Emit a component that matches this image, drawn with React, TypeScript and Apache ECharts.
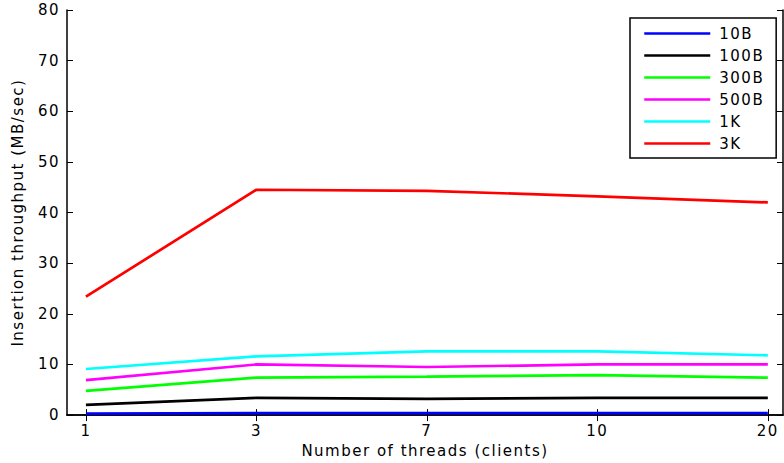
import React, { useEffect, useRef } from "react";
import * as echarts from "echarts";

const threads = ["1", "3", "7", "10", "20"];
const seriesNames = ["10B", "100B", "300B", "500B", "1K", "3K"];
const colors = ["#0000ff", "#000000", "#00ff00", "#ff00ff", "#00ffff", "#ff0000"];
const v10B = [0.3, 0.4, 0.4, 0.4, 0.4];
const v100B = [2.0, 3.4, 3.2, 3.4, 3.4];
const v300B = [4.8, 7.4, 7.6, 7.9, 7.4];
const v500B = [6.9, 10.0, 9.5, 10.0, 10.0];
const v1K = [9.1, 11.6, 12.6, 12.6, 11.8];
const v3K = [23.4, 44.5, 44.3, 43.2, 42.0];
const allValues = [v10B, v100B, v300B, v500B, v1K, v3K];
const yTicks = { min: 0, max: 80, interval: 10 };

const FONT = "DejaVu Sans";

export default function App() {
  const ref = useRef<HTMLDivElement>(null);
  useEffect(() => {
    if (!ref.current) return;
    const chart = echarts.init(ref.current, undefined, { renderer: "svg" });
    const idx = threads.map((_, i) => i + 1);
    const xMin = 0.889;
    const xMax = 5.089;
    const axisLine = { show: true, lineStyle: { color: "#000", width: 1.5 } };
    chart.setOption({
      animation: false,
      backgroundColor: "#fff",
      grid: { left: 67, right: 1, top: 10, bottom: 47 },
      legend: {
        orient: "vertical",
        left: 630,
        top: 18,
        itemWidth: 66,
        itemHeight: 14,
        itemGap: 7,
        padding: [8, 18, 7, 13],
        borderColor: "#000",
        borderWidth: 1.5,
        backgroundColor: "#fff",
        itemStyle: { opacity: 0 },
        lineStyle: { width: 2.5 },
        textStyle: { fontFamily: FONT, fontSize: 15, color: "#000", padding: [0, 0, 0, 4] },
        data: seriesNames,
      },
      xAxis: [
        {
          type: "value",
          min: xMin,
          max: xMax,
          position: "bottom",
          axisLine,
          splitLine: { show: false },
          axisTick: { show: true, inside: true, length: 6, customValues: idx, lineStyle: { color: "#000" } },
          axisLabel: {
            customValues: idx,
            formatter: (v: number) => threads[Math.round(v) - 1] ?? "",
            fontFamily: FONT,
            fontSize: 15,
            color: "#000",
            margin: 8,
          },
          name: "Number of threads (clients)",
          nameLocation: "middle",
          nameGap: 25,
          nameTextStyle: { fontFamily: FONT, fontSize: 15, color: "#000" },
        },
        {
          type: "value",
          min: xMin,
          max: xMax,
          position: "top",
          axisLine,
          splitLine: { show: false },
          axisTick: { show: true, inside: true, length: 6, customValues: idx, lineStyle: { color: "#000" } },
          axisLabel: { show: false },
        },
      ],
      yAxis: [
        {
          type: "value",
          min: yTicks.min,
          max: yTicks.max,
          interval: yTicks.interval,
          position: "left",
          axisLine,
          splitLine: { show: false },
          axisTick: { show: true, inside: true, length: 6, lineStyle: { color: "#000" } },
          axisLabel: { fontFamily: FONT, fontSize: 15, color: "#000", margin: 7 },
          name: "Insertion throughput (MB/sec)",
          nameLocation: "middle",
          nameGap: 42,
          nameTextStyle: { fontFamily: FONT, fontSize: 15, color: "#000" },
        },
        {
          type: "value",
          min: yTicks.min,
          max: yTicks.max,
          interval: yTicks.interval,
          position: "right",
          axisLine,
          splitLine: { show: false },
          axisTick: { show: true, inside: true, length: 6, lineStyle: { color: "#000" } },
          axisLabel: { show: false },
        },
      ],
      series: seriesNames.map((name, s) => ({
        name,
        type: "line",
        symbol: "none",
        xAxisIndex: 0,
        yAxisIndex: 0,
        data: allValues[s].map((v, i) => [idx[i], v]),
        lineStyle: { color: colors[s], width: 2.7 },
        itemStyle: { color: colors[s] },
      })),
    });
    return () => chart.dispose();
  }, []);
  return (
    <>
      <style>{".chartbox text{letter-spacing:1.5px}"}</style>
      <div
        ref={ref}
        className="chartbox"
        style={{ position: "fixed", left: 0, top: 0, width: 784, height: 463 }}
      />
    </>
  );
}
